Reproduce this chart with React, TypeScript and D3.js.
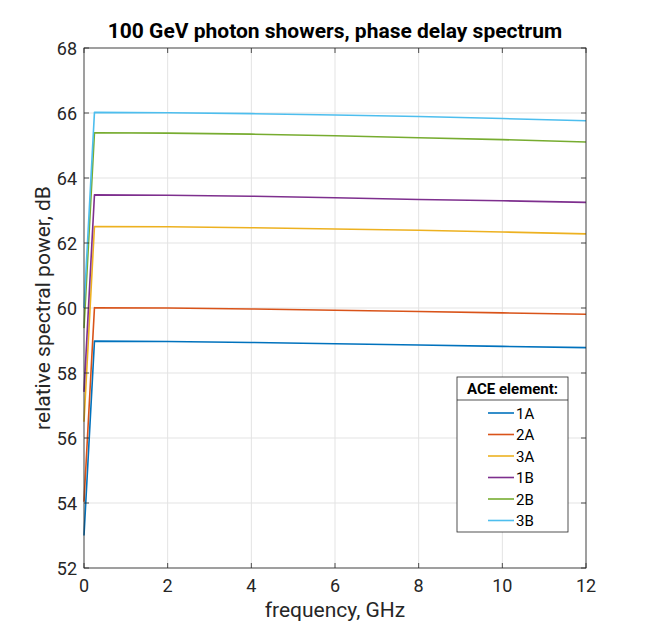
import React from "react";
import * as d3 from "d3";

const freqs = [0, 0.25, 2, 4, 6, 8, 10, 12];
const series1A = [53.0, 58.98, 58.97, 58.94, 58.9, 58.86, 58.82, 58.78];
const series2A = [54.04, 60.01, 60.0, 59.97, 59.93, 59.89, 59.85, 59.81];
const series3A = [56.5, 62.51, 62.5, 62.47, 62.43, 62.39, 62.34, 62.28];
const series1B = [57.42, 63.48, 63.47, 63.44, 63.39, 63.34, 63.3, 63.25];
const series2B = [59.38, 65.39, 65.38, 65.35, 65.3, 65.24, 65.18, 65.11];
const series3B = [60.0, 66.02, 66.01, 65.98, 65.94, 65.89, 65.83, 65.76];
const seriesNames = ["1A", "2A", "3A", "1B", "2B", "3B"];
const seriesColors = ["#0072BD", "#D95319", "#EDB120", "#7E2F8E", "#77AC30", "#4DBEEE"];
const allSeries = [series1A, series2A, series3A, series1B, series2B, series3B];
const xTicks = [0, 2, 4, 6, 8, 10, 12];
const yTicks = [52, 54, 56, 58, 60, 62, 64, 66, 68];

const W = 648;
const H = 639;
const left = 84;
const right = 586;
const top = 48;
const bottom = 568;

export default function App() {
  const x = d3.scaleLinear().domain([0, 12]).range([left, right]);
  const y = d3.scaleLinear().domain([52, 68]).range([bottom, top]);
  const line = d3
    .line<number>()
    .x((_, i) => x(freqs[i]))
    .y((d) => y(d));
  const font = "Roboto, 'Noto Sans', sans-serif";
  const axisColor = "#262626";
  const gridColor = "#e3e3e3";
  const tickLen = 5;

  const legX = 457;
  const legY = 377;
  const legW = 111;
  const legH = 155;
  const legHeaderH = 23;

  return (
    <svg width={W} height={H} style={{ position: "absolute", left: 0, top: 0 }} fontFamily={font}>
      <rect x={0} y={0} width={W} height={H} fill="#ffffff" />
      <rect x={left} y={top} width={right - left} height={bottom - top} fill="#ffffff" />
      {xTicks.map((t) => (
        <line key={"gx" + t} x1={x(t)} x2={x(t)} y1={top} y2={bottom} stroke={gridColor} strokeWidth={1} />
      ))}
      {yTicks.map((t) => (
        <line key={"gy" + t} x1={left} x2={right} y1={y(t)} y2={y(t)} stroke={gridColor} strokeWidth={1} />
      ))}
      {allSeries.map((s, i) => (
        <path key={"s" + i} d={line(s) || ""} fill="none" stroke={seriesColors[i]} strokeWidth={1.6} strokeLinejoin="round" />
      ))}
      <rect x={left} y={top} width={right - left} height={bottom - top} fill="none" stroke={axisColor} strokeWidth={0.8} />
      {xTicks.map((t) => (
        <g key={"tx" + t}>
          <line x1={x(t)} x2={x(t)} y1={bottom} y2={bottom - tickLen} stroke={axisColor} strokeWidth={0.8} />
          <line x1={x(t)} x2={x(t)} y1={top} y2={top + tickLen} stroke={axisColor} strokeWidth={0.8} />
          <text x={x(t)} y={bottom + 24} textAnchor="middle" fontSize={18} fill={axisColor}>
            {t}
          </text>
        </g>
      ))}
      {yTicks.map((t) => (
        <g key={"ty" + t}>
          <line x1={left} x2={left + tickLen} y1={y(t)} y2={y(t)} stroke={axisColor} strokeWidth={0.8} />
          <line x1={right} x2={right - tickLen} y1={y(t)} y2={y(t)} stroke={axisColor} strokeWidth={0.8} />
          <text x={left - 7} y={y(t) + 6.5} textAnchor="end" fontSize={18} fill={axisColor}>
            {t}
          </text>
        </g>
      ))}
      <text x={335} y={38} textAnchor="middle" fontSize={21} fontWeight="bold" fill="#000">
        100 GeV photon showers, phase delay spectrum
      </text>
      <text x={335} y={617} textAnchor="middle" fontSize={21} fill={axisColor}>
        frequency, GHz
      </text>
      <text
        transform={`translate(50, 308) rotate(-90)`}
        textAnchor="middle"
        fontSize={21}
        fill={axisColor}
      >
        relative spectral power, dB
      </text>
      <g>
        <rect x={legX} y={legY} width={legW} height={legH} fill="#ffffff" stroke={axisColor} strokeWidth={0.8} />
        <line x1={legX} x2={legX + legW} y1={legY + legHeaderH} y2={legY + legHeaderH} stroke={axisColor} strokeWidth={0.8} />
        <text x={legX + legW / 2} y={legY + 17} textAnchor="middle" fontSize={15} fontWeight="bold" fill="#000">
          ACE element:
        </text>
        {seriesNames.map((n, i) => {
          const yy = legY + 36 + i * 21.5;
          return (
            <g key={"l" + n}>
              <line x1={488} x2={514} y1={yy} y2={yy} stroke={seriesColors[i]} strokeWidth={1.6} />
              <text x={516} y={yy + 5.5} fontSize={15} fill="#000">
                {n}
              </text>
            </g>
          );
        })}
      </g>
    </svg>
  );
}
